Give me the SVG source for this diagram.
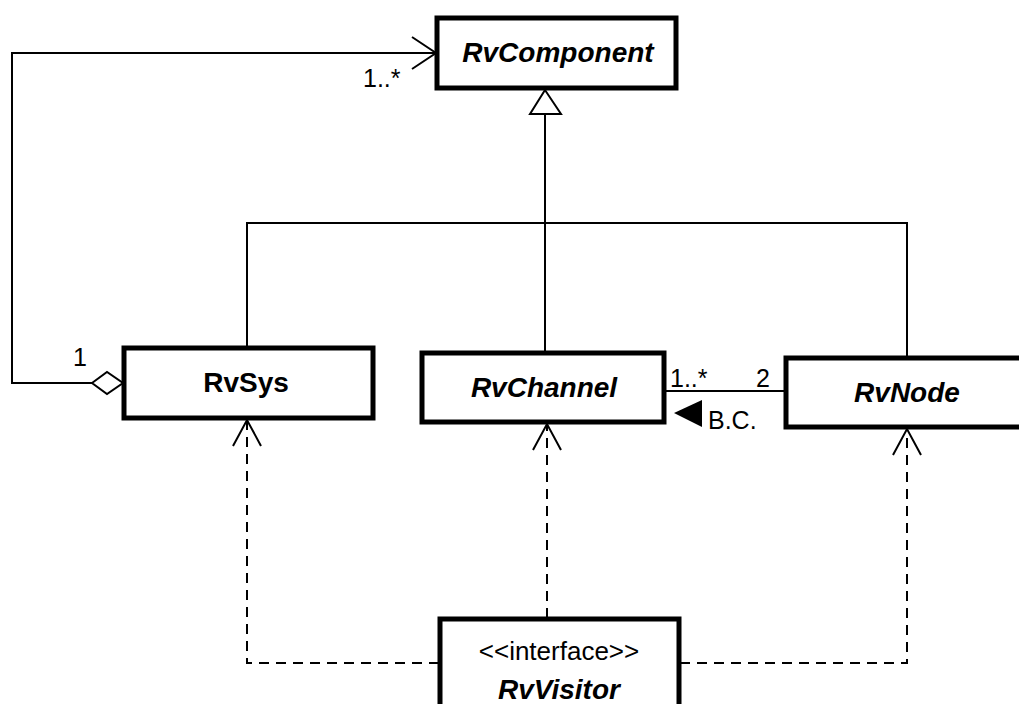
<svg xmlns="http://www.w3.org/2000/svg" width="1019" height="704" viewBox="0 0 1019 704">
  <style>
    .box { fill: #ffffff; stroke: #000000; stroke-width: 5; }
    .name { font-family: "Liberation Sans", Arial, sans-serif; font-size: 28px; font-weight: bold; font-style: italic; text-anchor: middle; fill: #000; }
    .plain { font-style: normal; }
    .stereo { font-family: "Liberation Sans", Arial, sans-serif; font-size: 26px; text-anchor: middle; fill: #000; }
    .lbl { font-family: "Liberation Sans", Arial, sans-serif; font-size: 25px; fill: #000; }
    .line { fill: none; stroke: #000; stroke-width: 2; }
    .dash { fill: none; stroke: #000; stroke-width: 2; stroke-dasharray: 10 7; }
    .open { fill: none; stroke: #000; stroke-width: 2; }
  </style>

  <!-- connectors -->
  <g id="connectors">
    <!-- aggregation: RvSys (1) to RvComponent (1..*) -->
    <polyline class="line" points="92,383 12,383 12,53 436,53"/>
    <polyline class="open" points="412,37 436,53 412,69"/>
    <polygon points="92,383 107,372 123,383 107,394" fill="#fff" stroke="#000" stroke-width="2"/>
    <text class="lbl" x="363" y="87">1..*</text>
    <text class="lbl" x="73" y="366">1</text>

    <!-- generalization tree -->
    <polygon points="545,90 530,114 561,114" fill="#fff" stroke="#000" stroke-width="2"/>
    <line class="line" x1="545" y1="114" x2="545" y2="352"/>
    <polyline class="line" points="247,347 247,223 907,223 907,357"/>

    <!-- association RvChannel - RvNode -->
    <line class="line" x1="665" y1="391" x2="784" y2="391"/>
    <text class="lbl" x="670" y="387">1..*</text>
    <text class="lbl" x="756" y="387">2</text>
    <polygon points="674,413 702,400 702,427" fill="#000"/>
    <text class="lbl" x="708" y="429">B.C.</text>

    <!-- dependencies from RvVisitor -->
    <polyline class="dash" points="439,663 247,663 247,420"/>
    <polyline class="open" points="233,446 247,420 261,446"/>
    <line class="dash" x1="547" y1="618" x2="547" y2="424"/>
    <polyline class="open" points="533,450 547,424 561,450"/>
    <polyline class="dash" points="680,663 907,663 907,429"/>
    <polyline class="open" points="893,455 907,429 921,455"/>
  </g>

  <g id="RvComponent">
    <rect class="box" x="437" y="18" width="239" height="70"/>
    <text class="name" x="558" y="62">RvComponent</text>
  </g>

  <g id="RvSys">
    <rect class="box" x="124" y="348" width="249" height="70"/>
    <text class="name plain" x="246" y="392">RvSys</text>
  </g>

  <g id="RvChannel">
    <rect class="box" x="422" y="353" width="242" height="69"/>
    <text class="name" x="544" y="397">RvChannel</text>
  </g>

  <g id="RvNode">
    <rect class="box" x="786" y="358" width="240" height="69"/>
    <text class="name" x="907" y="402">RvNode</text>
  </g>

  <g id="RvVisitor">
    <rect class="box" x="440" y="619" width="239" height="100"/>
    <text class="stereo" x="559" y="660">&lt;&lt;interface&gt;&gt;</text>
    <text class="name" x="559" y="699">RvVisitor</text>
  </g>
</svg>
